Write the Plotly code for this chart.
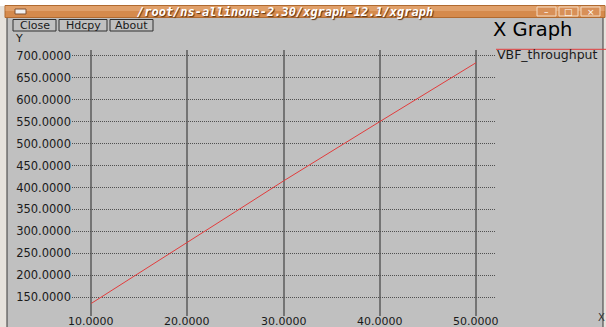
import plotly.graph_objects as go

# ---- data ----
time_s = [10, 15, 20, 25, 30, 35, 40, 45, 50]
vbf_throughput = [136, 205, 274, 345, 415, 483, 550, 617, 684]
x_ticks = [10, 20, 30, 40, 50]
y_ticks = [150, 200, 250, 300, 350, 400, 450, 500, 550, 600, 650, 700]
series_name = "VBF_throughput"
window_title = "/root/ns-allinone-2.30/xgraph-12.1/xgraph"
buttons = ["Close", "Hdcpy", "About"]

W, H = 606, 327
L, R, T, B = 72, 110, 50, 11
PW, PH = W - L - R, H - T - B

def px(x):
    return (x - L) / PW

def py(y):
    return (H - B - y) / PH

GRAY = "#c0c0c0"
FONT = "DejaVu Sans"
TXT = "#1a1a1a"

fig = go.Figure()
fig.add_trace(go.Scatter(
    x=time_s, y=vbf_throughput, mode="lines", name=series_name,
    line=dict(color="#e23c3c", width=1), showlegend=False,
))

shapes = []
annotations = []

# window body
shapes.append(dict(type="rect", xref="paper", yref="paper", layer="below",
                   x0=px(0), x1=px(W), y0=py(H + 5), y1=py(6),
                   fillcolor="#e6e2dc", line=dict(width=0)))
shapes.append(dict(type="rect", xref="paper", yref="paper", layer="below",
                   x0=px(7), x1=px(603), y0=py(H + 5), y1=py(17),
                   fillcolor=GRAY, line=dict(color="#3a3a3a", width=1)))
# title bar
shapes.append(dict(type="rect", xref="paper", yref="paper", layer="below",
                   x0=px(5), x1=px(605), y0=py(17.5), y1=py(5.5),
                   fillcolor="#d58a4c", line=dict(color="#b06a30", width=1)))
shapes.append(dict(type="rect", xref="paper", yref="paper", layer="below",
                   x0=px(5.5), x1=px(604.5), y0=py(11), y1=py(6),
                   fillcolor="#e0a06a", line=dict(width=0)))
# window menu icon
shapes.append(dict(type="rect", xref="paper", yref="paper", layer="below",
                   x0=px(15), x1=px(26), y0=py(14), y1=py(9),
                   fillcolor="#f0f0f0", line=dict(color="#805030", width=1)))
annotations.append(dict(text=window_title, xref="paper", yref="paper",
                        x=px(285), y=py(11.5), showarrow=False,
                        xanchor="center", yanchor="middle",
                        font=dict(family="DejaVu Sans Mono", size=12, color="#ffffff",
                                  weight="bold", style="italic",
                                  shadow="1px 1px 1px #5a3010")))
# window control boxes
for x0, glyph in [(537, "–"), (559, "□"), (581, "×")]:
    shapes.append(dict(type="rect", xref="paper", yref="paper", layer="below",
                       x0=px(x0), x1=px(x0 + 19), y0=py(16), y1=py(7),
                       fillcolor="#d89058", line=dict(color="#f4dcc4", width=1)))
    annotations.append(dict(text=glyph, xref="paper", yref="paper",
                            x=px(x0 + 9.5), y=py(11.5), showarrow=False,
                            xanchor="center", yanchor="middle",
                            font=dict(family=FONT, size=9, color="#ffffff")))

# buttons
for (x0, x1), label in zip([(13, 56), (59, 107), (110, 153)], buttons):
    shapes.append(dict(type="rect", xref="paper", yref="paper", layer="below",
                       x0=px(x0), x1=px(x1), y0=py(31), y1=py(19.5),
                       fillcolor=GRAY, line=dict(color="#303030", width=1)))
    annotations.append(dict(text=label, xref="paper", yref="paper",
                            x=px((x0 + x1) / 2), y=py(25.5), showarrow=False,
                            xanchor="center", yanchor="middle",
                            font=dict(family=FONT, size=11, color=TXT)))

# axis labels / title
annotations.append(dict(text="Y", xref="paper", yref="paper", x=px(13), y=py(38.5),
                        showarrow=False, xanchor="left", yanchor="middle",
                        font=dict(family=FONT, size=11, color=TXT)))
annotations.append(dict(text="X", xref="paper", yref="paper", x=px(596), y=py(317),
                        showarrow=False, xanchor="left", yanchor="middle",
                        font=dict(family=FONT, size=10, color="#333333")))
annotations.append(dict(text="X Graph", xref="paper", yref="paper", x=px(491), y=py(30),
                        showarrow=False, xanchor="left", yanchor="middle",
                        font=dict(family=FONT, size=19.5, color="#000000")))
# legend
shapes.append(dict(type="line", xref="paper", yref="paper",
                   x0=px(496), x1=px(607), y0=py(49.3), y1=py(49.3),
                   line=dict(color="#e23c3c", width=1)))
annotations.append(dict(text=series_name, xref="paper", yref="paper", x=px(495), y=py(54),
                        showarrow=False, xanchor="left", yanchor="middle",
                        font=dict(family=FONT, size=12.5, color=TXT)))

# x tick labels (placed on the x data scale)
for v in x_ticks:
    annotations.append(dict(text=f"{v:.4f}", xref="x", yref="paper", x=v, y=py(321.5),
                            showarrow=False, xanchor="center", yanchor="middle",
                            font=dict(family=FONT, size=11, color=TXT)))

fig.update_layout(
    width=W, height=H,
    margin=dict(l=L, r=R, t=T, b=B, autoexpand=False),
    paper_bgcolor="#ffffff",
    plot_bgcolor="rgba(0,0,0,0)",
    showlegend=False,
    shapes=shapes,
    annotations=annotations,
    xaxis=dict(range=[8.0, 52.08], tickvals=x_ticks,
               showticklabels=False,
               showgrid=True, gridcolor="#747474", gridwidth=1.5,
               zeroline=False, showline=False, ticks="",
               automargin=False),
    yaxis=dict(range=[107.4, 713.0], tickvals=y_ticks,
               ticktext=[f"{v:.4f}" for v in y_ticks],
               showgrid=True, gridcolor="#505050", gridwidth=1, griddash="1px,1px",
               zeroline=False, showline=False, ticks="",
               automargin=False, ticklabelstandoff=0,
               tickfont=dict(family=FONT, size=11.5, color=TXT)),
)

fig.write_html("out.html")
